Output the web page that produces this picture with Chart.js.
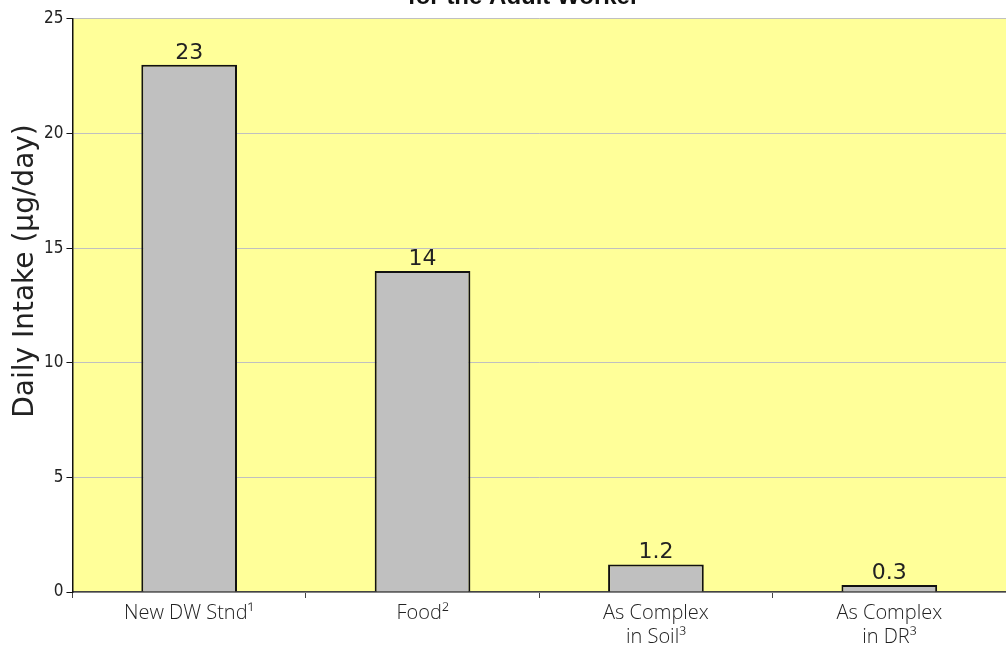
<!DOCTYPE html>
<html>
<head>
<meta charset="utf-8">
<script src="https://cdn.jsdelivr.net/npm/chart.js@4"></script>
<style>
  html, body { margin: 0; padding: 0; background: #fff; overflow: hidden; }
  #wrap { position: absolute; left: 0; top: -17px; width: 1006px; height: 669px; }
</style>
</head>
<body>
<div id="wrap"><canvas id="intakeChart"></canvas></div>
<script>
const categories = [
  ["New DW Stnd\u00b9"],
  ["Food\u00b2"],
  ["As Complex", "in Soil\u00b3"],
  ["As Complex", "in DR\u00b3"]
];
const intake = [23, 14, 1.2, 0.3];
const intakeLabels = ["23", "14", "1.2", "0.3"];
const yTicks = [0, 5, 10, 15, 20, 25];
const yTitle = "Daily Intake (\u00b5g/day)";

// yellow plot area
const plotBg = {
  id: "plotBg",
  beforeDraw(chart) {
    const { ctx, chartArea: a } = chart;
    ctx.save();
    ctx.fillStyle = "#ffff99";
    ctx.fillRect(a.left, a.top, a.right - a.left, a.bottom - a.top);
    ctx.restore();
  }
};

// value labels above bars + y axis title (sits a bit above centre in the original)
const valueLabels = {
  id: "valueLabels",
  afterDatasetsDraw(chart) {
    const { ctx } = chart;
    const meta = chart.getDatasetMeta(0);
    ctx.save();
    ctx.font = "22px 'DejaVu Sans'";
    ctx.fillStyle = "#222";
    ctx.textAlign = "center";
    ctx.textBaseline = "alphabetic";
    meta.data.forEach((bar, i) => {
      ctx.fillText(intakeLabels[i], bar.x, bar.y - 6);
    });

    const yScale = chart.scales.y;
    ctx.translate(26, yScale.getPixelForValue(14));
    ctx.rotate(-Math.PI / 2);
    ctx.font = "28px 'DejaVu Sans'";
    ctx.textBaseline = "middle";
    ctx.fillText(yTitle, 0, 0);
    ctx.restore();
  }
};

const ctx = document.getElementById("intakeChart").getContext("2d");
new Chart(ctx, {
  type: "bar",
  data: {
    labels: categories,
    datasets: [{
      data: intake,
      backgroundColor: "#c0c0c0",
      borderColor: "#111",
      borderWidth: 2,
      categoryPercentage: 1,
      barPercentage: 0.41
    }]
  },
  options: {
    responsive: true,
    maintainAspectRatio: false,
    animation: false,
    layout: { padding: { left: 41, right: 0, top: 0, bottom: 0 } },
    plugins: {
      legend: { display: false },
      tooltip: { enabled: false },
      title: {
        display: true,
        text: "for the Adult Worker",
        color: "#111",
        font: { family: "'Liberation Sans Narrow', 'Liberation Sans'", size: 24, weight: "bold" },
        padding: { top: 0, bottom: 7 }
      }
    },
    scales: {
      x: {
        offset: true,
        grid: {
          display: true,
          offset: true,
          drawOnChartArea: false,
          color: "#444",
          tickLength: 6
        },
        border: { color: "#444", width: 1.5 },
        ticks: {
          color: "#222",
          padding: 3,
          font: { family: "'Open Sans'", size: 20, weight: "300", lineHeight: 1.2 }
        }
      },
      y: {
        min: 0,
        max: 25,
        afterBuildTicks(axis) { axis.ticks = yTicks.map(v => ({ value: v })); },
        grid: {
          color: "#c0c0c0",
          lineWidth: 1,
          tickColor: "#111",
          tickLength: 6
        },
        border: { color: "#111", width: 1.5 },
        ticks: {
          color: "#222",
          padding: 3,
          font: { family: "'Liberation Sans Narrow', 'DejaVu Sans Condensed'", size: 17 }
        }
      }
    }
  },
  plugins: [plotBg, valueLabels]
});
</script>
</body>
</html>
